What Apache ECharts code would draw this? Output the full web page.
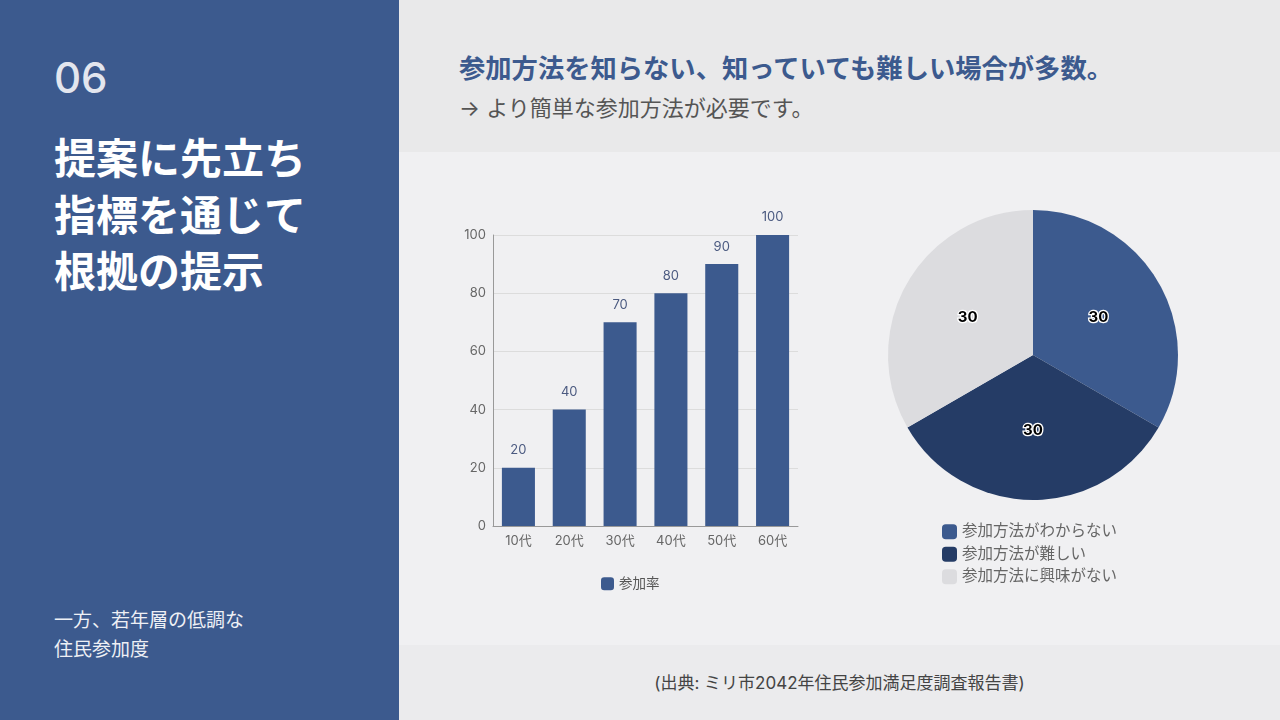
<!DOCTYPE html>
<html>
<head>
<meta charset="utf-8">
<script src="https://cdn.jsdelivr.net/npm/echarts@6/dist/echarts.min.js"></script>
<style>
    html, body { margin: 0; padding: 0; }
    body {
        width: 1280px; height: 720px; position: relative; overflow: hidden;
        font-family: Inter, "Noto Sans CJK JP", "Noto Sans", sans-serif;
        background: #f0f0f2;
    }
    .side {
        position: absolute; left: 0; top: 0; width: 399px; height: 720px;
        background: #3c5a8e; color: #fff;
    }
    .side .num { position: absolute; left: 54px; top: 52px; font-size: 42px; font-weight: 500; color: #e3e6ee; }
    .side .title { position: absolute; left: 54px; top: 131px; font-size: 42px; font-weight: bold; line-height: 56.5px; }
    .side .note { position: absolute; left: 54px; top: 606px; font-size: 19px; line-height: 29px; color: #eef0f5; }
    .head {
        position: absolute; left: 399px; top: 0; width: 881px; height: 152px;
        background: #e9e9ea;
    }
    .head .t1 { position: absolute; left: 60px; top: 47px; font-size: 26.3px; font-weight: bold; color: #3c5a8e; }
    .head .t2 { position: absolute; left: 60px; top: 90px; font-size: 22px; color: #555; }
    .foot {
        position: absolute; left: 399px; top: 645px; width: 881px; height: 75px;
        background: #ebebed;
    }
    .foot .src { position: absolute; left: 0; right: 0; top: 24px; text-align: center; font-size: 17px; color: #444; }
    #chart { position: absolute; left: 0; top: 0; width: 1280px; height: 720px; }
</style>
</head>
<body>
<div class="side">
    <div class="num">06</div>
    <div class="title">提案に先立ち<br>指標を通じて<br>根拠の提示</div>
    <div class="note">一方、若年層の低調な<br>住民参加度</div>
</div>
<div class="head">
    <div class="t1">参加方法を知らない、知っていても難しい場合が多数。</div>
    <div class="t2">→ より簡単な参加方法が必要です。</div>
</div>
<div class="foot">
    <div class="src">(出典: ミリ市2042年住民参加満足度調査報告書)</div>
</div>
<div id="chart"></div>
<script>
// 年代別参加率
var ageGroups = ['10代', '20代', '30代', '40代', '50代', '60代'];
var participationRates = [20, 40, 70, 80, 90, 100];
var barSeriesName = '参加率';

// 不参加の理由
var reasonNames = ['参加方法がわからない', '参加方法が難しい', '参加方法に興味がない'];
var reasonValues = [30, 30, 30];
var reasonColors = ['#3c5a8e', '#253c66', '#dcdcdf'];

var chart = echarts.init(document.getElementById('chart'));
var font = 'Inter, "Noto Sans CJK JP", "Noto Sans", sans-serif';

var option = {
    backgroundColor: 'transparent',
    textStyle: { fontFamily: font },
    animation: false,
    legend: [{
        data: [barSeriesName],
        left: 596,
        top: 572,
        itemWidth: 13,
        itemHeight: 13,
        itemGap: 5,
        icon: 'roundRect',
        textStyle: { fontSize: 13.5, color: '#555' }
    }, {
        data: reasonNames,
        orient: 'vertical',
        left: 937,
        top: 519,
        itemWidth: 15,
        itemHeight: 15,
        itemGap: 7,
        icon: 'roundRect',
        textStyle: { fontSize: 15.5, color: '#666' }
    }],
    grid: { left: 493, top: 235, width: 305, height: 291 },
    xAxis: {
        type: 'category',
        data: ageGroups,
        axisTick: { show: false },
        axisLine: { lineStyle: { color: '#999' } },
        axisLabel: { color: '#666', fontSize: 13, margin: 9 }
    },
    yAxis: {
        type: 'value',
        min: 0,
        max: 100,
        interval: 20,
        axisLine: { show: true, lineStyle: { color: '#999' } },
        axisTick: { show: false },
        axisLabel: { color: '#666', fontSize: 13, margin: 7 },
        splitLine: { lineStyle: { color: '#dcdcdc' } }
    },
    series: [{
        name: barSeriesName,
        type: 'bar',
        data: participationRates,
        barWidth: '65%',
        itemStyle: { color: '#3c5a8e' },
        label: { show: true, position: 'top', color: '#4b5a80', fontSize: 13, distance: 11 }
    }, {
        name: '理由',
        type: 'pie',
        center: [1033, 355],
        radius: 145,
        startAngle: 90,
        data: reasonNames.map(function (n, i) {
            return { name: n, value: reasonValues[i], itemStyle: { color: reasonColors[i] } };
        }),
        label: {
            show: true,
            position: 'inside',
            formatter: '{c}',
            color: '#000',
            fontSize: 15,
            fontWeight: 'bold',
            textBorderColor: '#fff',
            textBorderWidth: 2.5
        },
        labelLine: { show: false }
    }]
};
chart.setOption(option);
</script>
</body>
</html>
